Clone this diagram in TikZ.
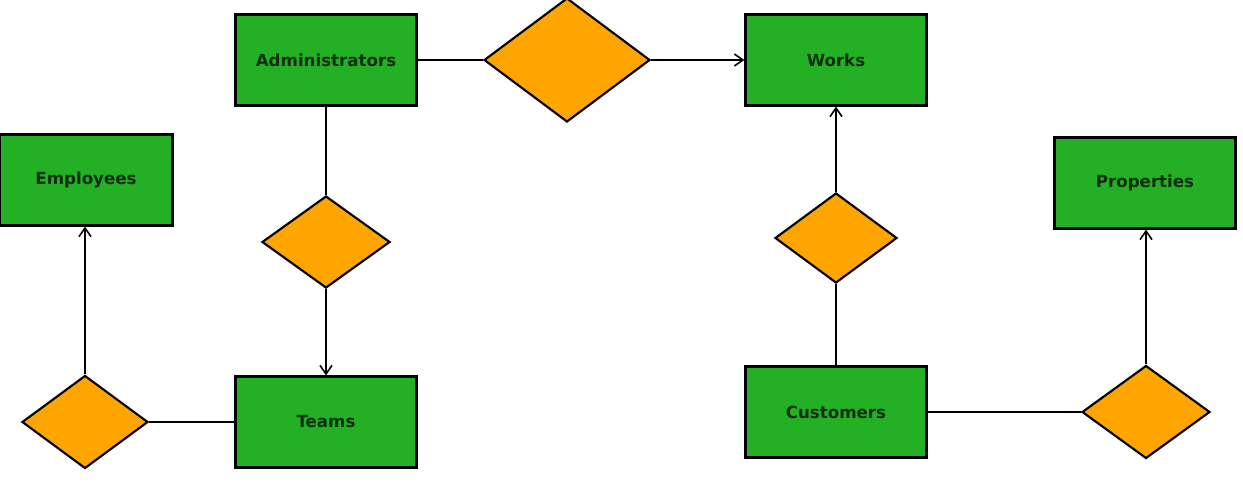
\documentclass[tikz,border=0pt]{standalone}
\usepackage{fontspec}
\setmainfont{DejaVu Sans}
\usetikzlibrary{shapes.geometric,arrows.meta}
\definecolor{entgreen}{HTML}{24B024}
\definecolor{relorange}{HTML}{FFA500}
\definecolor{txtdark}{HTML}{0E2E0E}
\begin{document}
\begin{tikzpicture}[x=0.75pt,y=-0.75pt,
  entity/.style={draw=black,line width=1.6pt,fill=entgreen,text=txtdark,minimum width=181*0.75pt,minimum height=91*0.75pt,inner sep=0pt,font=\bfseries\fontsize{12.5}{14}\selectfont},
  rel/.style={draw=black,line width=1.6pt,fill=relorange,diamond,inner sep=0pt},
  conn/.style={draw=black,line width=1.5pt},
  arr/.style={conn,-{Straight Barb[length=6.5pt,width=9pt,line width=1.2pt]}}]
\useasboundingbox (0,0) rectangle (1243,492);
\fill[white] (0,0) rectangle (1243,492);
\node[entity] (adm) at (326,60) {Administrators};
\node[entity] (wor) at (836,60) {Works};
\node[entity,minimum width=173*0.75pt] (emp) at (86,180) {Employees};
\node[entity] (pro) at (1145,183) {Properties};
\node[entity] (tea) at (326,422) {Teams};
\node[entity] (cus) at (836,412) {Customers};
\node[rel,minimum width=166*0.75pt,minimum height=124*0.75pt] (r1) at (567,60) {};
\node[rel,minimum width=128*0.75pt,minimum height=92*0.75pt] (r2) at (326,242) {};
\node[rel,minimum width=126*0.75pt,minimum height=93*0.75pt] (r3) at (85,422) {};
\node[rel,minimum width=122*0.75pt,minimum height=90*0.75pt] (r4) at (836,238) {};
\node[rel,minimum width=128*0.75pt,minimum height=93*0.75pt] (r5) at (1146,412) {};
\draw[conn] (adm.east) -- (r1.west);
\draw[arr] (r1.east) -- (wor.west);
\draw[conn] (adm.south) -- (r2.north);
\draw[arr] (r2.south) -- (tea.north);
\draw[conn] (tea.west) -- (r3.east);
\draw[arr] (r3.north) -- (emp.south -| r3.north);
\draw[conn] (cus.north) -- (r4.south);
\draw[arr] (r4.north) -- (wor.south);
\draw[conn] (cus.east) -- (r5.west);
\draw[arr] (r5.north) -- (pro.south -| r5.north);
\end{tikzpicture}
\end{document}
